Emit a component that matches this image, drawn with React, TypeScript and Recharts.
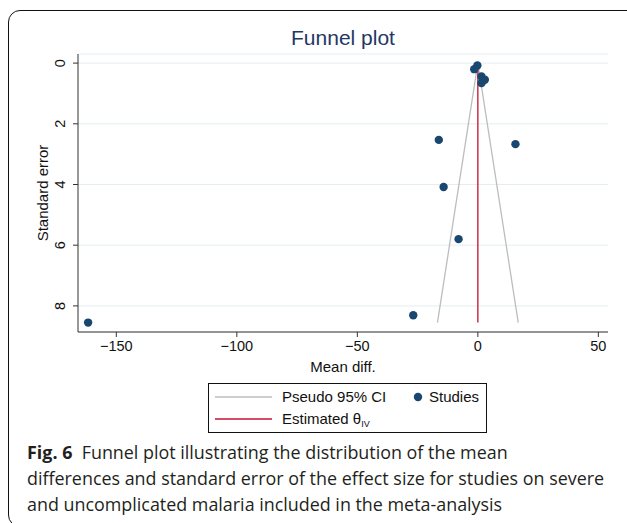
import React from "react";
import {
  CartesianGrid,
  Scatter,
  ScatterChart,
  XAxis,
  YAxis,
} from "recharts";

// study estimates: mean difference and its standard error
const meanDiff = [-0.2, -1.5, 1.5, 2.9, 1.5, -16.2, 15.6, -14.2, -8.0, -26.8, -161.7];
const stdError = [0.08, 0.2, 0.44, 0.55, 0.66, 2.53, 2.67, 4.08, 5.8, 8.31, 8.55];

const thetaIV = 0;
const maxSE = 8.55;

const xTicks = [-150, -100, -50, 0, 50];
const yTicks = [0, 2, 4, 6, 8];

const studies = meanDiff.map((x, i) => ({ x, y: stdError[i] }));
const funnel = [
  { x: thetaIV - 1.96 * maxSE, y: maxSE },
  { x: thetaIV, y: 0 },
  { x: thetaIV + 1.96 * maxSE, y: maxSE },
];
const estimate = [
  { x: thetaIV, y: 0 },
  { x: thetaIV, y: maxSE },
];

const NAVY = "#1a476f";
const RED = "#c41230";
const GREY = "#bdbdbd";
const AXIS = "#333333";
const SANS = "'Liberation Sans', Arial, sans-serif";

const minus = (v: number) => String(v).replace("-", "\u2212");

function YTick(props: any) {
  const { x, y, payload } = props;
  return (
    <text
      transform={`translate(${x - 11},${y}) rotate(-90)`}
      textAnchor="middle"
      dominantBaseline="central"
      fontSize={14.5}
      fontFamily={SANS}
      fill="#111"
    >
      {payload.value}
    </text>
  );
}

const noShape = () => <g />;

export default function App() {
  return (
    <div
      style={{
        position: "fixed",
        left: 0,
        top: 0,
        width: 627,
        height: 523,
        overflow: "hidden",
        background: "white",
      }}
    >
      <div
        style={{
          position: "absolute",
          left: 8,
          top: 10,
          width: 700,
          height: 515,
          border: "1.5px solid #111",
          borderTopLeftRadius: 12,
          borderBottomLeftRadius: 12,
        }}
      />
      <div
        style={{
          position: "absolute",
          left: 78,
          width: 530,
          top: 26,
          lineHeight: "24px",
          textAlign: "center",
          fontFamily: SANS,
          fontSize: 21,
          color: "#1f3864",
        }}
      >
        Funnel plot
      </div>
      <div style={{ position: "absolute", left: 0, top: 0 }}>
        <ScatterChart
          width={627}
          height={523}
          margin={{ top: 54, right: 19, bottom: 151, left: 38 }}
        >
          <CartesianGrid vertical={false} stroke="#e4eef0" strokeWidth={1} />
          <XAxis
            type="number"
            dataKey="x"
            domain={[-165.9, 54]}
            allowDataOverflow
            ticks={xTicks}
            tickFormatter={minus}
            height={40}
            tickSize={5}
            tickMargin={4}
            stroke={AXIS}
            tick={{ fontSize: 14.5, fill: "#111", fontFamily: SANS }}
          />
          <YAxis
            type="number"
            dataKey="y"
            domain={[-0.3, 8.86]}
            allowDataOverflow
            reversed
            ticks={yTicks}
            width={40}
            tickSize={5}
            tickMargin={2}
            stroke={AXIS}
            tick={<YTick />}
          />
          <Scatter
            data={funnel}
            line={{ stroke: GREY, strokeWidth: 1.3 }}
            shape={noShape}
            isAnimationActive={false}
          />
          <Scatter
            data={estimate}
            line={{ stroke: RED, strokeWidth: 1.3 }}
            shape={noShape}
            isAnimationActive={false}
          />
          <Scatter data={studies} fill={NAVY} isAnimationActive={false} shape={(p: any) => (
            <circle cx={p.cx} cy={p.cy} r={4.2} fill={NAVY} />
          )} />
        </ScatterChart>
      </div>
      <div
        style={{
          position: "absolute",
          left: 42,
          top: 193,
          transform: "translate(-50%, -50%) rotate(-90deg)",
          fontFamily: SANS,
          fontSize: 15,
          whiteSpace: "nowrap",
          color: "#111",
        }}
      >
        Standard error
      </div>
      <div
        style={{
          position: "absolute",
          left: 343,
          top: 366,
          transform: "translate(-50%, -50%)",
          fontFamily: SANS,
          fontSize: 15,
          whiteSpace: "nowrap",
          color: "#111",
        }}
      >
        Mean diff.
      </div>
      <div
        style={{
          position: "absolute",
          left: 208,
          top: 383,
          width: 279,
          height: 50,
          border: "1px solid #111",
          boxSizing: "border-box",
          fontFamily: SANS,
          fontSize: 15,
          color: "#111",
        }}
      >
        <svg width={279} height={50} style={{ position: "absolute", left: 0, top: 0 }}>
          <line x1={6} x2={63} y1={13} y2={13} stroke={GREY} strokeWidth={1.3} />
          <line x1={6} x2={63} y1={35} y2={35} stroke={RED} strokeWidth={1.3} />
          <circle cx={209} cy={13} r={4.2} fill={NAVY} />
        </svg>
        <div style={{ position: "absolute", left: 73, top: 4, lineHeight: "18px", whiteSpace: "nowrap" }}>
          Pseudo 95% CI
        </div>
        <div style={{ position: "absolute", left: 220, top: 4, lineHeight: "18px", whiteSpace: "nowrap" }}>
          Studies
        </div>
        <div style={{ position: "absolute", left: 73, top: 26, lineHeight: "18px", whiteSpace: "nowrap" }}>
          Estimated θ<sub style={{ fontSize: 9, verticalAlign: "-3px" }}>IV</sub>
        </div>
      </div>
      <div
        style={{
          position: "absolute",
          left: 27,
          top: 439,
          fontFamily: "'Open Sans', 'Noto Sans', sans-serif",
          fontSize: 17.9,
          lineHeight: "26px",
          color: "#231f20",
          whiteSpace: "nowrap",
        }}
      >
        <div>
          <b>Fig. 6</b>&nbsp; Funnel plot illustrating the distribution of the mean
        </div>
        <div>differences and standard error of the effect size for studies on severe</div>
        <div>and uncomplicated malaria included in the meta-analysis</div>
      </div>
    </div>
  );
}
